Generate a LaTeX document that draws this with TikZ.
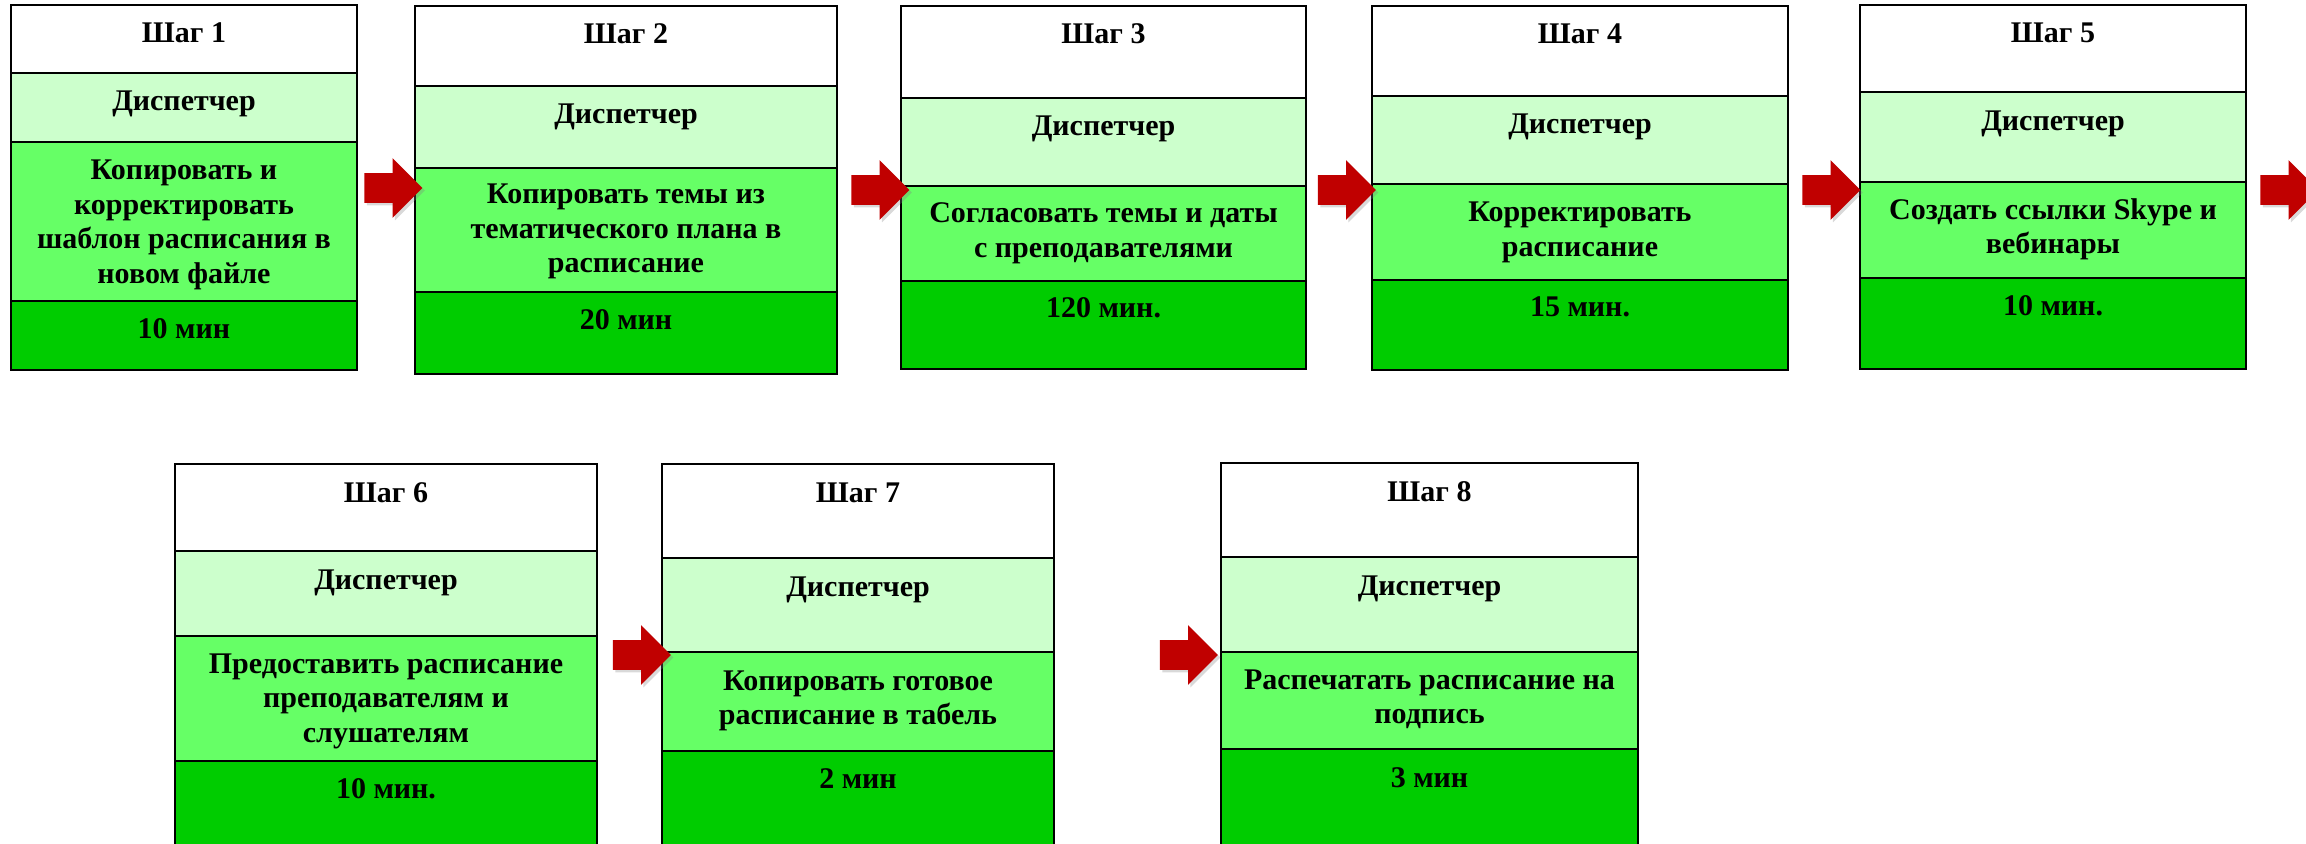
\documentclass[tikz,border=0pt]{standalone}
\usepackage{fontspec}
\setmainfont{Liberation Serif}
\usetikzlibrary{shapes.arrows,shadows}
\definecolor{rolegreen}{HTML}{CCFFCC}
\definecolor{taskgreen}{HTML}{66FF66}
\definecolor{timegreen}{HTML}{00CC00}
\definecolor{arrowred}{HTML}{C00000}
\tikzset{
  every node/.style={font=\bfseries\fontsize{15}{17.25}\selectfont},
  band/.style={draw=black,line width=1pt},
  txt/.style={anchor=base,align=center,inner sep=0pt},
  blockarr/.style={single arrow,fill=arrowred,draw=none,minimum height=29pt,
    inner xsep=0pt,inner ysep=7.25pt,single arrow head extend=7.5pt,
    single arrow head indent=0pt,
    drop shadow={opacity=0.3,shadow xshift=1.2pt,shadow yshift=-1.2pt}},
}

\begin{document}
\begin{tikzpicture}[x=0.5pt,y=-0.5pt]
\useasboundingbox (0,0) rectangle (2306,844);
\clip (0,0) rectangle (2306,844);

% step 1
\draw[band,fill=white] (11,5) rectangle (357,73);
\draw[band,fill=rolegreen] (11,73) rectangle (357,142);
\draw[band,fill=taskgreen] (11,142) rectangle (357,301);
\draw[band,fill=timegreen] (11,301) rectangle (357,370);
\node[txt] (t1) at (184,43) {Шаг 1};
\node[txt] (r1) at (184,111) {Диспетчер};
\node[txt] (d1) at (184,283.5) {Копировать и\\корректировать\\шаблон расписания в\\новом файле};
\node[txt] (m1) at (184,339) {10 мин};

% step 2
\draw[band,fill=white] (415,6) rectangle (837,86);
\draw[band,fill=rolegreen] (415,86) rectangle (837,168);
\draw[band,fill=taskgreen] (415,168) rectangle (837,292);
\draw[band,fill=timegreen] (415,292) rectangle (837,374);
\node[txt] (t2) at (626,44) {Шаг 2};
\node[txt] (r2) at (626,124) {Диспетчер};
\node[txt] (d2) at (626,273) {Копировать темы из\\тематического плана в\\расписание};
\node[txt] (m2) at (626,330) {20 мин};

% step 3
\draw[band,fill=white] (901,6) rectangle (1306,98);
\draw[band,fill=rolegreen] (901,98) rectangle (1306,186);
\draw[band,fill=taskgreen] (901,186) rectangle (1306,281);
\draw[band,fill=timegreen] (901,281) rectangle (1306,369);
\node[txt] (t3) at (1103.5,44) {Шаг 3};
\node[txt] (r3) at (1103.5,136) {Диспетчер};
\node[txt] (d3) at (1103.5,257.5) {Согласовать темы и даты\\с преподавателями};
\node[txt] (m3) at (1103.5,318) {120 мин.};

% step 4
\draw[band,fill=white] (1372,6) rectangle (1788,96);
\draw[band,fill=rolegreen] (1372,96) rectangle (1788,184);
\draw[band,fill=taskgreen] (1372,184) rectangle (1788,280);
\draw[band,fill=timegreen] (1372,280) rectangle (1788,370);
\node[txt] (t4) at (1580,44) {Шаг 4};
\node[txt] (r4) at (1580,134) {Диспетчер};
\node[txt] (d4) at (1580,256.5) {Корректировать\\расписание};
\node[txt] (m4) at (1580,317) {15 мин.};

% step 5
\draw[band,fill=white] (1860,5) rectangle (2246,92);
\draw[band,fill=rolegreen] (1860,92) rectangle (2246,182);
\draw[band,fill=taskgreen] (1860,182) rectangle (2246,278);
\draw[band,fill=timegreen] (1860,278) rectangle (2246,369);
\node[txt] (t5) at (2053,43) {Шаг 5};
\node[txt] (r5) at (2053,131) {Диспетчер};
\node[txt] (d5) at (2053,254) {Создать ссылки Skype и\\вебинары};
\node[txt] (m5) at (2053,316) {10 мин.};

% step 6
\draw[band,fill=white] (175,464) rectangle (597,551);
\draw[band,fill=rolegreen] (175,551) rectangle (597,636);
\draw[band,fill=taskgreen] (175,636) rectangle (597,761);
\draw[band,fill=timegreen] (175,761) rectangle (597,860);
\node[txt] (t6) at (386,502) {Шаг 6};
\node[txt] (r6) at (386,589) {Диспетчер};
\node[txt] (d6) at (386,742) {Предоставить расписание\\преподавателям и\\слушателям};
\node[txt] (m6) at (386,798) {10 мин.};

% step 7
\draw[band,fill=white] (662,464) rectangle (1054,558);
\draw[band,fill=rolegreen] (662,558) rectangle (1054,652);
\draw[band,fill=taskgreen] (662,652) rectangle (1054,751);
\draw[band,fill=timegreen] (662,751) rectangle (1054,860);
\node[txt] (t7) at (858,502) {Шаг 7};
\node[txt] (r7) at (858,596) {Диспетчер};
\node[txt] (d7) at (858,724.5) {Копировать готовое\\расписание в табель};
\node[txt] (m7) at (858,788) {2 мин};

% step 8
\draw[band,fill=white] (1221,463) rectangle (1638,557);
\draw[band,fill=rolegreen] (1221,557) rectangle (1638,652);
\draw[band,fill=taskgreen] (1221,652) rectangle (1638,749);
\draw[band,fill=timegreen] (1221,749) rectangle (1638,860);
\node[txt] (t8) at (1429.5,501) {Шаг 8};
\node[txt] (r8) at (1429.5,595) {Диспетчер};
\node[txt] (d8) at (1429.5,723.5) {Распечатать расписание на\\подпись};
\node[txt] (m8) at (1429.5,787) {3 мин};

% arrows between the steps
\node[blockarr] (a12) at (386,188) {};
\node[blockarr] (a23) at (873,190) {};
\node[blockarr] (a34) at (1339.5,190) {};
\node[blockarr] (a45) at (1824,190) {};
\node[blockarr] (a56) at (2282,190) {};
\node[blockarr] (a67) at (634.5,655) {};
\node[blockarr] (a78) at (1181.5,655) {};
\end{tikzpicture}
\end{document}
